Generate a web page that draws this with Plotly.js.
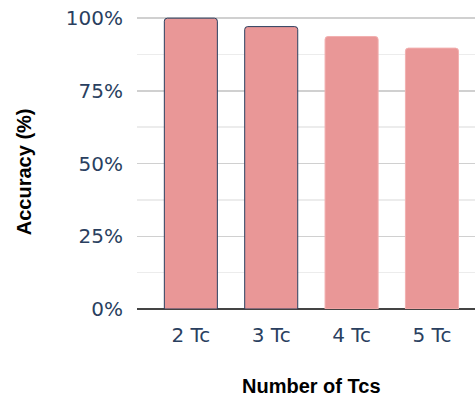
<!DOCTYPE html>
<html>
<head>
<meta charset="utf-8">
<script src="https://cdn.plot.ly/plotly-3.0.1.min.js"></script>
<style>
html,body{margin:0;padding:0;overflow:hidden;background:#fff;}
#chart{width:485px;height:403px;}
</style>
</head>
<body>
<div id="chart"></div>
<script>
var categories = ['2 Tc', '3 Tc', '4 Tc', '5 Tc'];
var accuracy = [100, 97.1, 93.7, 89.7];
var yTickVals = [0, 25, 50, 75, 100];
var yTickText = ['0%', '25%', '50%', '75%', '100%'];
var outlineColors = ['#2a3f5f', '#2a3f5f', '#f2b0b0', '#f2b0b0'];

var trace = {
  type: 'bar',
  x: categories,
  y: accuracy,
  marker: {
    color: '#e99797',
    cornerradius: 3,
    line: {color: outlineColors, width: 1}
  },
  hoverinfo: 'x+y'
};

var layout = {
  width: 485,
  height: 403,
  margin: {l: 137, r: 0, t: 17, b: 93.5, pad: 0},
  paper_bgcolor: '#ffffff',
  plot_bgcolor: '#ffffff',
  showlegend: false,
  bargap: 0.34,
  xaxis: {
    type: 'category',
    range: [-0.67, 3.66],
    showgrid: false,
    zeroline: false,
    showline: false,
    ticks: 'outside',
    ticklen: 8,
    tickcolor: 'rgba(0,0,0,0)',
    tickfont: {family: 'DejaVu Sans', size: 20, color: '#2a3f5f'}
  },
  yaxis: {
    range: [0, 100.4],
    tickvals: yTickVals,
    ticktext: yTickText,
    showgrid: true,
    gridcolor: '#d0d0d0',
    gridwidth: 1.5,
    zeroline: true,
    zerolinecolor: '#444444',
    zerolinewidth: 1.5,
    showline: false,
    ticks: 'outside',
    ticklen: 9,
    tickcolor: 'rgba(0,0,0,0)',
    tickfont: {family: 'DejaVu Sans', size: 20, color: '#2a3f5f'},
    minor: {dtick: 12.5, tick0: 0, showgrid: true, gridcolor: '#ececec', gridwidth: 1.5}
  },
  annotations: [
    {
      text: '<b>Accuracy (%)</b>',
      xref: 'paper', yref: 'paper',
      x: (24 - 137) / 348, y: (403 - 172.5 - 93.5) / 292.5,
      xanchor: 'center', yanchor: 'middle',
      textangle: -90,
      showarrow: false,
      font: {family: 'Liberation Sans, Arial, sans-serif', size: 20, color: '#000'}
    },
    {
      text: '<b>Number of Tcs</b>',
      xref: 'paper', yref: 'paper',
      x: (311 - 137) / 348, y: -(387 - 309.5) / 292.5,
      xanchor: 'center', yanchor: 'middle',
      showarrow: false,
      font: {family: 'Liberation Sans, Arial, sans-serif', size: 20, color: '#000'}
    }
  ]
};

Plotly.newPlot('chart', [trace], layout, {displayModeBar: false, staticPlot: true});
</script>
</body>
</html>
